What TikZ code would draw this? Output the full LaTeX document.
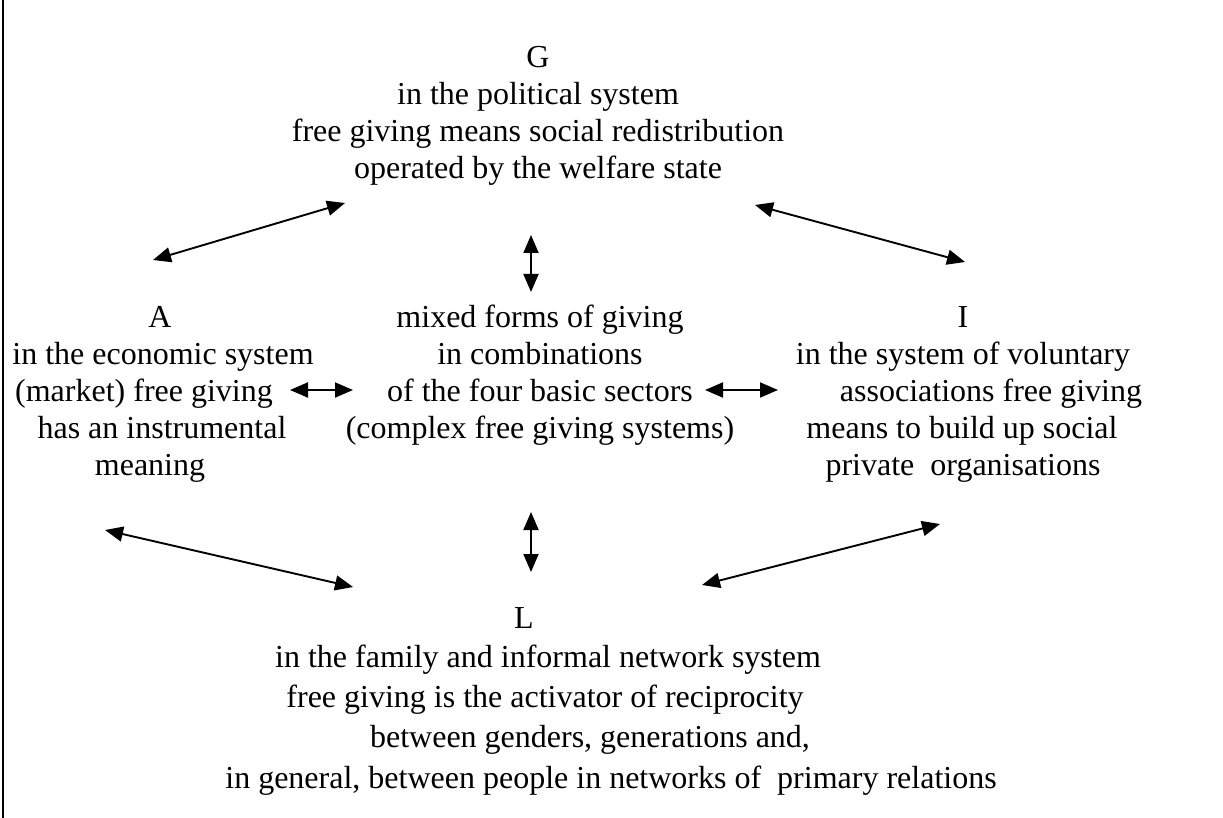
\documentclass[tikz,border=0pt]{standalone}
\usepackage{fontspec}
\setmainfont{Liberation Serif}
\usetikzlibrary{arrows.meta}

\begin{document}
\begin{tikzpicture}[x=1pt,y=-1pt]
                    \tikzstyle{every node}+=[inner sep=0pt]
                    \tikzstyle{txt}=[anchor=base,font=\fontsize{32}{37}\selectfont]
                    \tikzstyle{link}=[{Triangle[length=18pt,width=15pt]}-{Triangle[length=18pt,width=15pt]},line width=1.9pt]
                    \useasboundingbox (0,0) rectangle (1223,818);
                    \draw [line width=2pt] (3,0) -- (3,818);
                    % G
                    \draw (538,68) node[txt] (g0) {G};
                    \draw (538,105) node[txt] (g1) {in the political system};
                    \draw (538,142) node[txt] (g2) {free giving means social redistribution};
                    \draw (538,179) node[txt] (g3) {operated by the welfare state};
                    % A
                    \draw (160,327) node[txt] (a0) {A};
                    \draw (163,364) node[txt] (a1) {in the economic system};
                    \draw (144,401) node[txt] (a2) {(market) free giving};
                    \draw (162,438) node[txt] (a3) {has an instrumental};
                    \draw (150,475) node[txt] (a4) {meaning};
                    % mixed
                    \draw (540,327) node[txt] (m0) {mixed forms of giving};
                    \draw (540,364) node[txt] (m1) {in combinations};
                    \draw (540,401) node[txt] (m2) {of the four basic sectors};
                    \draw (540,438) node[txt] (m3) {(complex free giving systems)};
                    % I
                    \draw (963,327) node[txt] (i0) {I};
                    \draw (963,364) node[txt] (i1) {in the system of voluntary};
                    \draw (991,401) node[txt] (i2) {associations free giving};
                    \draw (962,438) node[txt] (i3) {means to build up social};
                    \draw (963,475) node[txt] (i4) {private\ \ organisations};
                    % L
                    \draw (524,628) node[txt] (l0) {L};
                    \draw (548,667) node[txt] (l1) {in the family and informal network system};
                    \draw (545,707) node[txt] (l2) {free giving is the activator of reciprocity};
                    \draw (590,747) node[txt] (l3) {between genders, generations and,};
                    \draw (611,788) node[txt] (l4) {in general, between people in networks of\ \ primary relations};
                    % arrow ends
                    \coordinate (ga) at (153,260);
                    \coordinate (ag) at (345,203);
                    \coordinate (gi) at (755,205);
                    \coordinate (ig) at (965,262);
                    \coordinate (gm) at (531,235);
                    \coordinate (mg) at (531,292);
                    \coordinate (am) at (290,390);
                    \coordinate (ma) at (353,390);
                    \coordinate (mi) at (705,390);
                    \coordinate (im) at (778,390);
                    \coordinate (ml) at (531,512);
                    \coordinate (lm) at (531,572);
                    \coordinate (al) at (105,530);
                    \coordinate (la) at (353,587);
                    \coordinate (li) at (702,585);
                    \coordinate (il) at (940,524);
                    \draw [link] (ga) -- (ag);
                    \draw [link] (gi) -- (ig);
                    \draw [link] (gm) -- (mg);
                    \draw [link] (am) -- (ma);
                    \draw [link] (mi) -- (im);
                    \draw [link] (ml) -- (lm);
                    \draw [link] (al) -- (la);
                    \draw [link] (li) -- (il);
                \end{tikzpicture}
\end{document}
